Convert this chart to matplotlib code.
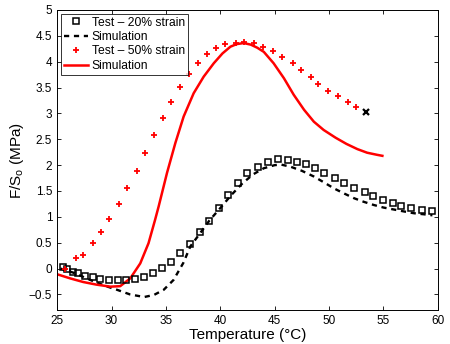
import matplotlib
matplotlib.use('Agg')
import matplotlib.pyplot as plt

plt.rcParams['font.family'] = ['Liberation Sans', 'DejaVu Sans']

# Test - 20% strain (squares)
t20_x = [25.5, 25.95, 26.45, 26.9, 27.6, 28.3, 28.96, 29.76, 30.55, 31.35, 32.15, 33.0,
         33.8, 34.67, 35.47, 36.3, 37.25, 38.17, 39.0, 39.85, 40.7, 41.6, 42.5, 43.44,
         44.35, 45.3, 46.2, 47.07, 47.86, 48.7, 49.56, 50.5, 51.4, 52.3, 53.3, 54.07,
         54.95, 55.85, 56.65, 57.5, 58.5, 59.47]
t20_y = [0.03, 0.0, -0.06, -0.08, -0.14, -0.17, -0.21, -0.23, -0.22, -0.22, -0.21, -0.17,
         -0.09, 0.01, 0.12, 0.31, 0.48, 0.70, 0.92, 1.17, 1.42, 1.65, 1.84, 1.97,
         2.06, 2.12, 2.10, 2.07, 2.02, 1.94, 1.84, 1.75, 1.65, 1.56, 1.49, 1.41,
         1.33, 1.27, 1.21, 1.17, 1.14, 1.11]

# Simulation 20% (black dashed)
s20_x = [25.3, 26.5, 27.5, 28.5, 29.5, 30.5, 31.7, 33.0, 33.9, 34.8, 35.7, 36.6, 37.25,
         38.2, 39.0, 40.0, 41.0, 42.0, 43.0, 44.0, 45.0, 45.6, 46.45, 47.5, 48.6, 49.5,
         50.45, 51.4, 52.3, 53.2, 54.1, 55.0, 56.0, 57.0, 57.8, 58.7, 59.5]
s20_y = [0.0, -0.08, -0.17, -0.26, -0.34, -0.41, -0.50, -0.55, -0.51, -0.41, -0.22, 0.11, 0.43,
         0.70, 0.93, 1.17, 1.42, 1.64, 1.82, 1.94, 2.00, 2.01, 1.97, 1.89, 1.78, 1.67,
         1.55, 1.45, 1.36, 1.29, 1.23, 1.18, 1.14, 1.10, 1.07, 1.05, 1.03]

# Test - 50% strain (red +)
t50_x = [25.75, 26.75, 27.4, 28.25, 29.0, 29.8, 30.7, 31.4, 32.3, 33.1, 33.9, 34.76,
         35.47, 36.26, 37.15, 37.98, 38.78, 39.64, 40.4, 41.4, 42.2, 43.1, 43.96, 44.86,
         45.7, 46.67, 47.44, 48.3, 49.0, 49.9, 50.8, 51.7, 52.5]
t50_y = [0.0, 0.2, 0.27, 0.5, 0.71, 0.95, 1.24, 1.56, 1.89, 2.23, 2.59, 2.91,
         3.23, 3.51, 3.77, 3.98, 4.15, 4.26, 4.35, 4.37, 4.38, 4.36, 4.29, 4.21,
         4.1, 3.97, 3.84, 3.71, 3.57, 3.44, 3.33, 3.23, 3.12]

# Simulation 50% (red solid)
s50_x = [25.0, 26.2, 27.4, 28.6, 29.9, 30.8, 31.72, 32.64, 33.4, 34.0, 34.33, 35.1, 35.87,
         36.63, 37.55, 38.47, 39.4, 40.2, 40.93, 41.5, 42.15, 42.8, 43.4, 44.0, 44.9, 45.85,
         46.75, 47.7, 48.6, 49.5, 50.6, 51.6, 52.6, 53.5, 54.4, 54.9]
s50_y = [-0.11, -0.19, -0.26, -0.31, -0.35, -0.34, -0.19, 0.10, 0.49, 0.94, 1.20, 1.85, 2.43,
         2.94, 3.39, 3.71, 3.97, 4.16, 4.29, 4.34, 4.36, 4.33, 4.27, 4.19, 3.97, 3.68,
         3.36, 3.07, 2.84, 2.68, 2.53, 2.41, 2.31, 2.24, 2.20, 2.18]

# end point marker
end_x = [53.36]
end_y = [3.02]

fig = plt.figure(figsize=(4.5, 3.44), dpi=100)
ax = fig.add_axes([0.127, 0.099, 0.846, 0.872])

ax.plot(t20_x, t20_y, linestyle='none', marker='s', markersize=4.3, markerfacecolor='none',
        markeredgecolor='black', markeredgewidth=1.1, label='Test \u2013 20% strain', zorder=3)
ax.plot(s20_x, s20_y, linestyle=(0, (2.2, 2.0)), color='black', linewidth=1.7, label='Simulation', zorder=2)
ax.plot(t50_x, t50_y, linestyle='none', marker='+', markersize=4.2, markeredgewidth=1.3,
        color='red', label='Test \u2013 50% strain', zorder=3)
ax.plot(s50_x, s50_y, color='red', linewidth=1.8, label='Simulation', zorder=2)
ax.plot(end_x, end_y, linestyle='none', marker='x', markersize=4.5, markeredgewidth=1.6, color='black', zorder=4)

ax.set_xlim(25, 60)
ax.set_ylim(-0.8, 5)
ax.set_xticks(range(25, 61, 5))
ax.set_yticks([-0.5, 0, 0.5, 1, 1.5, 2, 2.5, 3, 3.5, 4, 4.5, 5])
ax.set_yticklabels(['\u22120.5', '0', '0.5', '1', '1.5', '2', '2.5', '3', '3.5', '4', '4.5', '5'])
ax.tick_params(direction='in', top=True, right=True, labelsize=8.5, length=3, width=0.6)
for s in ax.spines.values():
    s.set_linewidth(0.7)

ax.set_xlabel('Temperature (\u00b0C)', fontsize=11, labelpad=1)
ax.set_ylabel('F/S$_\\mathregular{o}$ (MPa)', fontsize=11, labelpad=2)

leg = ax.legend(loc='upper left', fontsize=8.7, frameon=True, fancybox=False, edgecolor='black',
                handlelength=2.0, handletextpad=0.3, borderpad=0.25, labelspacing=0.2,
                borderaxespad=0.3)
leg.get_frame().set_linewidth(0.7)

plt.savefig('out.png', dpi=100)
plt.close()
